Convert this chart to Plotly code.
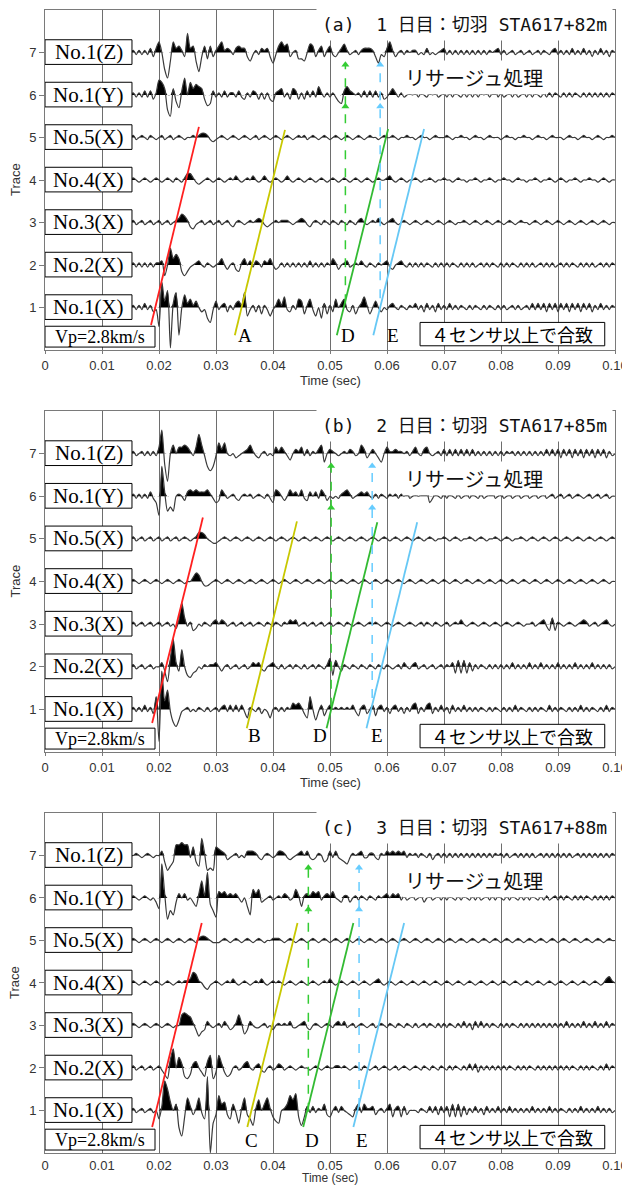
import numpy as np
import plotly.graph_objects as go

# ---------------- data ----------------
T_START_MS = 15.0      # first sample time (ms)
T_STEP_MS = 0.5        # sample interval (ms)
AMP_UNIT = 0.05        # amplitude unit in trace spacings

TIME_TICKS = [0, 0.01, 0.02, 0.03, 0.04, 0.05, 0.06, 0.07, 0.08, 0.09, 0.10]
TIME_TICK_TEXT = ["0", "0.01", "0.02", "0.03", "0.04", "0.05", "0.06", "0.07", "0.08", "0.09", "0.10"]
TRACE_TICKS = [1, 2, 3, 4, 5, 6, 7]
SENSOR_LABELS = ["No.1(X)", "No.2(X)", "No.3(X)", "No.4(X)", "No.5(X)", "No.1(Y)", "No.1(Z)"]

PANEL_TITLES = ["(a)  1 日目：切羽 STA617+82m", "(b)  2 日目：切羽 STA617+85m", "(c)  3 日目：切羽 STA617+88m"]

# ---- panel (a) waveforms (0.5 ms samples from 15 ms) ----
A1 = [0, 1, -1, 1, -1, 2, -1, 1, -2, -1,
      -9, 12, 3, 8, -19, 2, 7, -13, 0, 6,
      2, 4, 1, 3, 0, -2, -1, -5, -7, -1,
      3, -1, 1, 2, -2, 1, -1, 2, 3, 1,
      7, -4, -1, 1, -2, 1, -3, 1, -1, -4,
      -1, 1, 4, 1, 5, -1, -2, 1, -1, 4,
      3, -3, 1, 4, -1, -4, 0, -5, 2, -3,
      1, -2, 4, 0, 2, 4, -1, -2, 1, -3,
      0, 2, 5, 1, -3, 0, 3, 0, -2, 0,
      -1, 1, 2, 0, -1, 1, 0, -1, 1, 0,
      2, -1, 1, -2, 2, -1, 1, -2, 2, -1,
      1, -1, 2, -1, 1, -1, 1, 0, -1, 1,
      -1, 1, 0, -1, 1, -1, 1, 0, -1, 1,
      -1, 1, -1, 0, 1, -1, 1, -1, 0, 1,
      -1, 2, -1, 2, -1, 2, -2, 2, -1, 2,
      -2, 2, -1, 2, -2, 2, -1, 2, -2, 2,
      -1, 2, -2, 1, -1, 2, -1, 1, -1, 1,
      0]
A2 = [0, 1, -1, 1, -1, 1, -1, 1, -1, 1,
      1, 2, -5, 0, 8, 3, 5, 3, -3, -5,
      -3, -1, 0, 1, 2, 0, -1, 1, 0, -1,
      0, 1, 3, 0, -2, 0, 1, -2, -3, 1,
      3, 0, 2, -1, 2, 1, -1, 2, 1, 3,
      0, -2, -1, 1, -1, 1, -1, 1, -1, 1,
      -1, 1, -1, 2, -1, 1, -1, 1, -1, 1,
      0, 3, 1, -2, 0, 1, 2, -1, 0, 1,
      0, 2, 0, -1, 1, 0, -1, 1, 0, 1,
      2, -1, -2, 0, 1, 2, 0, -1, 1, -1,
      1, -1, 1, -1, 1, 0, -1, 1, -1, 1,
      -1, 1, -1, 1, 0, -1, 1, -1, 1, -1,
      1, -1, 0, 1, -1, 1, -1, 1, 0, -1,
      1, -1, 1, -1, 1, 0, -1, 1, -1, 1,
      -1, 1, -1, 0, 1, -1, 1, -1, 1, -1,
      0, 1, -1, 1, -1, 1, 0, -1, 1, -1,
      1, -1, 1, -1, 0, 1, -1, 1, -1, 1,
      0]
A3 = [0, 1, -1, 0, 1, -1, 0, 1, -1, 0,
      1, -1, 0, 1, -1, 0, 1, 2, 4, 3,
      1, -2, -3, -1, 0, 1, -1, 0, 1, -1,
      0, 1, -1, 0, 1, -1, -2, 0, 1, 0,
      -1, 0, 1, 0, 1, 2, 1, -1, -2, -1,
      0, 1, 0, 1, 1, 1, 0, -1, 0, 1,
      2, 1, -1, -2, 0, 1, 0, -1, 1, 0,
      -1, 1, 0, -1, 1, 0, -1, 1, 0, -1,
      1, 2, 0, -1, 0, 1, 0, 2, 0, -1,
      0, 1, 2, 0, -1, 0, 1, 0, -1, 0,
      1, 0, -1, 0, 1, 0, -1, 0, 1, 0,
      -1, 0, 1, 0, -1, 0, 0, 1, 0, -1,
      0, 1, 0, -1, 0, 1, 0, -1, 0, 1,
      0, -1, 0, 1, 0, -1, 0, 1, 0, 0,
      -1, 0, 1, 0, -1, 0, 1, 0, -1, 0,
      1, 0, -1, 0, 1, 0, -1, 0, 1, 0,
      -1, 0, 1, 0, -1, 0, 1, 0, -1, 0,
      0]
A4 = [0, 1, 0, -1, 0, 1, 0, -1, 0, 1,
      0, -1, 0, 1, 0, -1, 1, 0, -1, 1,
      3, 3, 1, -1, -2, -1, 0, 1, 0, -1,
      0, 1, 0, -1, 0, 1, 0, 2, 0, -1,
      0, 1, 0, 2, 0, -1, 0, 2, 0, -1,
      0, 1, 0, -1, 0, 2, 0, -1, 0, 1,
      0, -1, 0, 1, 0, -1, 0, 1, 0, -1,
      0, 1, 0, -1, 0, 1, 0, -1, 0, 1,
      0, -1, 0, 1, 0, -1, 0, 1, 0, 0,
      1, 2, 0, -1, 0, 1, 0, -1, 0, 0,
      1, 0, -1, 0, 0, 1, 0, -1, 0, 0,
      1, 0, 0, -1, 0, 1, 0, 0, -1, 0,
      0, 1, 0, -1, 0, 0, 1, 0, -1, 0,
      0, 1, 0, 0, -1, 0, 1, 0, 0, -1,
      0, 0, 1, 0, -1, 0, 0, 1, 0, -1,
      0, 1, 0, -1, 0, 0, 1, 0, -1, 0,
      0, 1, 0, 0, -1, 0, 1, 0, -1, 0,
      0]
A5 = [0, 1, -1, 0, 1, 0, -1, 1, 0, -1,
      0, 1, -1, 0, 1, -1, 0, 1, 0, -1,
      0, 0, 1, 0, 1, 2, 2, 1, -1, -2,
      -1, 0, 1, 0, -1, 0, 1, 0, -1, 0,
      1, 0, -1, 0, 1, -1, 0, 1, 0, -1,
      0, 1, 0, -1, 0, 1, 0, -1, 0, 1,
      0, 1, -1, 0, 1, 0, -1, 0, 1, 0,
      -1, 0, 1, 0, -1, 0, 1, 0, -1, 0,
      1, 0, -1, 0, 1, 0, 0, -1, 0, 1,
      0, 0, 1, 0, -1, 0, 0, 1, 0, 0,
      -1, 0, 1, 0, 0, -1, 0, 1, 0, 0,
      0, 1, 0, -1, 0, 0, 1, 0, 0, -1,
      0, 1, 0, 0, -1, 0, 1, 0, 0, 0,
      -1, 0, 1, 0, 0, -1, 0, 0, 1, 0,
      0, -1, 0, 1, 0, 0, -1, 0, 1, 0,
      0, 0, -1, 0, 1, 0, 0, -1, 0, 1,
      0, 0, -1, 0, 1, 0, -1, 0, 0, 1,
      0]
A6 = [0, 1, -1, 1, -1, 2, -1, 2, -2, 1,
      7, 6, 3, -7, -10, 3, -3, -6, 2, 8,
      0, 6, 3, 5, 4, 3, -2, -5, -4, 2,
      -1, 1, -1, 2, -1, 1, 1, -1, 2, -1,
      -2, 1, -1, 2, 1, -2, 1, -2, 1, -2,
      -3, 1, 2, 3, -1, 1, -2, 3, 2, -2,
      1, -2, 2, -1, 2, -1, 4, 1, -1, 1,
      -1, 1, -1, -3, -4, 2, 4, 2, 1, 0,
      1, -1, 2, -1, 2, -1, 2, -1, 1, -2,
      -1, 1, 3, 1, -1, 1, -1, 0, 1, 0,
      1, -1, 1, 0, -1, 1, 0, 1, -1, 0,
      1, -1, 1, -1, 1, 0, -1, 1, -1, 1,
      -1, 1, -1, 1, 0, 1, -1, 1, 2, -1,
      1, -1, 0, 1, -1, 1, -1, 0, 1, -1,
      1, -1, 1, 0, -1, 1, -1, 1, -1, 1,
      0, -1, 1, -1, 1, -1, 1, 0, -1, 1,
      -1, 1, -1, 1, -1, 1, -1, 1, -1, 1,
      0]
A7 = [0, 1, -1, 1, -1, 1, -1, 2, -2, 2,
      5, 0, -8, -12, -4, 5, 2, 3, 1, -2,
      9, 2, 3, -4, -9, -2, 3, -3, 3, -2,
      1, 3, 5, 1, 2, 1, -1, 2, 3, 2,
      2, -2, -4, -1, 1, -1, 2, 1, 2, -2,
      -5, -1, 3, 5, 3, 4, -2, 0, 1, -3,
      -3, -4, 0, 4, 3, -2, 1, 3, -2, 1,
      3, -1, -2, 0, 2, 4, 1, -1, 0, 1,
      -1, 1, 2, 2, 2, 1, -2, -5, -1, -2,
      2, 5, 1, -2, 0, 1, -1, 1, 0, 1,
      1, -1, 0, -1, 2, -1, 0, -1, 0, 1,
      2, -1, 1, -1, 1, -1, 1, -1, 1, -1,
      1, -1, 1, -1, 1, -1, 1, 0, 1, 2,
      -1, 1, -1, 0, 1, -1, 0, 1, -1, 0,
      1, -1, 0, 1, -1, 1, 0, -1, 1, 2,
      -1, 1, -1, 1, -1, 2, -1, 1, -1, 2,
      -1, 1, -2, 1, -1, 2, -1, 1, -2, 1,
      0]

# ---- panel (b) waveforms ----
B1 = [0, 1, -1, 1, -1, 2, -1, 1, -2, 6,
      -15, 18, 4, 9, -1, -6, -8, -5, -1, 0,
      1, -1, 0, -1, 1, 0, -1, 1, -1, 0,
      1, -1, 1, 2, -1, 2, -1, 2, -1, 2,
      -1, -4, 1, 0, -1, 1, -2, 0, -1, -4,
      0, 1, -1, 1, -1, 1, 0, 3, 2, 3,
      1, -2, -4, 6, 0, -5, -1, 2, -3, 0,
      2, 0, 1, 0, 1, 0, 1, 0, 2, -1,
      -3, 1, 2, -2, 0, 2, -3, 1, 2, -1,
      1, -2, 1, 2, -1, 1, -2, 1, -1, 2,
      3, -2, 1, -1, 2, 3, -2, 1, -1, 2,
      -1, 1, -2, 2, -1, 1, -1, 2, -1, 1,
      -1, 1, -1, 1, 0, -1, 1, -1, 1, 0,
      -1, 1, -1, 1, -1, 2, -1, 1, 0, -1,
      1, -1, 1, -1, 1, 0, -1, 2, -1, 1,
      -1, 1, 0, -1, 1, -1, 1, -1, 2, -1,
      1, -1, 1, 0, -1, 1, -1, 2, -1, 1,
      0]
B2 = [0, 1, -1, 0, 1, -1, 0, 1, -1, 0,
      0, 2, -2, -7, 4, 13, 2, -2, 8, 0,
      -4, -5, -3, -2, 0, -1, 1, 0, 1, 1,
      2, 0, -2, 0, 1, -1, 0, 1, -1, 0,
      1, -1, 0, 2, 1, 2, -1, -2, 0, 1,
      2, 0, -1, 1, -1, 0, 1, -1, 1, 0,
      -1, 1, -1, 0, 1, -1, 1, 0, -1, 1,
      4, -4, 3, 0, -2, 1, 0, -1, 1, 0,
      -1, 1, 0, -1, 1, 0, -1, 1, 0, -1,
      1, 0, -1, 0, 1, -1, 2, 0, -1, 1,
      2, -1, 0, 1, -1, 0, 1, -1, 0, 1,
      -1, 1, 0, 2, -3, 3, -3, 3, -3, 2,
      -2, 1, -1, 1, 0, -1, 1, -1, 1, -1,
      1, -1, 1, -1, 2, -1, 1, -1, 1, -1,
      2, -1, 1, -1, 2, -1, 1, -1, 1, -1,
      2, -1, 1, -1, 1, -1, 2, -1, 1, -1,
      1, -1, 2, -1, 1, -1, 1, -1, 1, -1,
      0]
B3 = [0, 1, -1, 0, 1, -1, 0, 1, -1, 0,
      1, -1, 0, 1, -1, 0, -2, 2, 10, 3,
      -1, 1, -3, -2, 0, -1, 1, 0, -1, 1,
      2, 0, 2, 1, -1, 0, 1, -1, 0, 1,
      -1, 0, 1, -1, 0, 1, 0, -1, 1, 0,
      -1, 1, 0, -1, 1, 0, 2, 1, 2, -1,
      0, 1, -1, 0, 1, -1, 0, 1, -1, 0,
      1, -1, 0, 1, 0, -1, 1, 0, -1, 0,
      1, 0, -1, 0, 1, 0, 1, 0, -1, 0,
      1, 0, -1, 0, 1, 0, -1, 0, 1, 0,
      -1, 0, 1, -1, 1, 0, -1, 1, 0, -1,
      0, 1, -1, 0, 1, 0, 2, 0, -1, 0,
      1, 0, -1, 0, 1, 0, -1, 0, 1, 0,
      -1, 0, 1, 0, -1, 0, 1, 0, -1, 0,
      0, 1, -1, 0, 1, 2, -1, -3, 3, -3,
      1, 0, -1, 0, 1, 0, -1, 0, 1, 2,
      1, -1, 0, 1, -1, 0, 1, 2, 0, -1,
      0]
B4 = [0, 1, 0, -1, 0, 1, 0, -1, 0, 1,
      0, -1, 0, 1, 0, -1, 0, 1, 0, -1,
      0, 0, 2, 4, 3, 0, -2, -2, -1, 0,
      1, 0, -1, 0, 1, 0, -1, 0, 1, 0,
      -1, 0, 1, 0, -1, 0, 1, 0, -1, 0,
      1, 0, -1, 0, 1, 0, -1, 0, 1, 0,
      -1, 0, 1, 0, -1, 0, 1, 0, -1, 0,
      1, 0, -1, 0, 1, 0, -1, 0, 1, 0,
      -1, 0, 1, 0, -1, 0, 1, 0, -1, 0,
      1, 0, -1, 0, 1, 0, -1, 0, 1, 0,
      -1, 0, 1, 0, -1, 0, 1, 0, -1, 0,
      1, 0, -1, 0, 1, 0, -1, 0, 1, 0,
      -1, 0, 1, 0, -1, 0, 1, 0, -1, 0,
      1, 0, -1, 0, 1, 0, -1, 0, 1, 0,
      -1, 0, 1, 0, -1, 0, 1, 0, -1, 0,
      1, 0, -1, 0, 1, 0, -1, 0, 1, 0,
      -1, 0, 1, 0, -1, 0, 1, 0, -1, 0,
      0]
B5 = [0, 1, -1, 0, 1, -1, 0, 1, -1, 0,
      1, -1, 0, 1, -1, 0, 1, -1, 0, 1,
      0, -1, 0, 1, 3, 3, 2, 0, -1, -2,
      -2, -1, 0, 1, 0, -1, 0, 1, 0, -1,
      0, 1, 0, -1, 0, 1, 0, -1, 0, 1,
      0, -1, 0, 1, 0, -1, 0, 1, 0, -1,
      0, 1, 0, -1, 0, 1, 0, -1, 0, 1,
      0, -1, 0, 1, 0, -1, 0, 1, 0, -1,
      0, 1, 0, -1, 0, 1, 0, -1, 0, 1,
      0, -1, 0, 1, 0, -1, 0, 1, 0, -1,
      0, 1, 0, -1, 0, 1, 0, -1, 0, 0,
      1, 0, -1, 0, 1, 0, -1, 0, 0, 1,
      0, -1, 0, 1, 0, -1, 0, 0, 1, 0,
      -1, 0, 1, 0, -1, 0, 0, 1, 0, -1,
      0, 1, 0, -1, 0, 1, 0, -1, 0, 1,
      0, -1, 0, 1, 0, -1, 0, 1, 0, -1,
      0, 1, 0, -1, 0, 1, 0, -1, 0, 1,
      0]
B6 = [0, 1, -1, 1, -1, 1, -1, 2, -1, -3,
      -9, 14, 2, -7, -5, -7, 0, 1, 0, -2,
      2, 3, 2, 3, 2, 2, 2, 3, 1, -1,
      -3, -2, 3, 1, -1, 0, 1, -1, -2, 0,
      1, 0, 1, -1, 0, 1, 0, -1, 1, -1,
      -3, 3, 2, 0, -2, 0, 3, 1, 2, 0,
      3, -1, -2, 2, 0, 2, -1, 3, 1, -2,
      0, -1, 0, -1, 1, 2, 3, 1, -1, 0,
      1, 2, 1, 2, 0, -1, 1, -1, 1, 0,
      -1, 1, 0, 1, -1, 1, 0, 2, -1, 0,
      1, 0, 1, 3, 2, -3, -1, 1, 0, -1,
      1, -1, 1, 0, -1, 1, -1, 0, 1, -1,
      1, 0, -1, 1, -1, 0, 1, 2, -1, 0,
      1, -1, 0, 1, -1, 0, 1, -1, 0, 1,
      -1, 0, 1, -1, 0, 1, -1, 0, 1, -1,
      0, 1, -1, 0, 1, -1, 0, 1, 0, -1,
      0, 1, -1, 0, 1, -1, 0, 1, -1, 0,
      0]
B7 = [0, 1, -1, 0, 1, -1, 1, -1, 1, -1,
      3, 11, -5, -13, 0, 4, 0, 3, 3, 4,
      3, 1, -1, 3, 9, 4, -1, -6, -8, -6,
      -1, 5, 2, 5, 0, -1, 0, -2, -1, 0,
      1, 2, 4, 1, -1, -2, 0, 1, -1, 0,
      -1, 3, 1, 3, 1, -1, -3, 0, 2, 1,
      3, -1, 2, -1, 1, 0, 2, 4, -4, 0,
      2, 1, 0, -1, 0, 1, 0, 2, 1, -1,
      0, 4, 2, -2, 0, 2, 0, -2, -4, 0,
      3, 1, 1, 2, 1, 1, 0, 1, -1, 1,
      3, 0, -1, 2, 3, 0, -1, 0, 1, -1,
      2, -1, 2, -1, 2, -1, 2, -1, 2, -1,
      2, -1, 1, -1, 1, -1, 1, -1, 1, -1,
      1, -1, 1, 0, 1, -1, 1, -1, 1, -1,
      1, -1, 1, -1, 1, -1, 2, -1, 2, -1,
      2, -2, 2, -1, 2, -2, 2, -1, 2, -2,
      2, -1, 2, -2, 2, -1, 2, -2, 1, -1,
      0]

# ---- panel (c) waveforms ----
C1 = [0, 1, -1, 0, 1, -1, 0, 1, -1, 0,
      -4, 2, 14, 10, 4, 0, 3, -8, -12, -3,
      6, 2, -2, 1, 6, -1, -4, 16, -20, -6,
      -2, 7, 3, 4, -2, -4, 3, -1, -6, 1,
      6, -2, -4, -7, 1, 5, 0, 3, 6, 1,
      -3, -5, -6, 0, 1, 3, 7, 5, 8, -3,
      -7, -3, 2, -1, 2, -1, 1, 0, 3, -2,
      -3, 0, 2, -1, 2, 0, -1, -2, -3, 1,
      3, -1, 3, 1, 1, 2, -2, 0, 1, -1,
      1, 3, -3, 1, 2, -3, 2, -2, 0, 0,
      0, -1, 1, 0, -1, 2, -1, 2, -2, 2,
      -1, 2, -3, 3, -3, 3, -3, 2, -2, 1,
      -1, 2, -1, 1, -2, 2, -1, 1, -1, 2,
      -1, 1, -1, 2, -1, 1, -1, 1, -1, 1,
      -1, 2, -1, 1, -1, 1, -1, 2, -1, 1,
      -1, 1, 0, -1, 1, -1, 1, -1, 2, -1,
      1, -1, 1, -1, 2, -1, 1, -1, 1, -1,
      0]
C2 = [0, 1, -1, 0, 1, -1, 0, 1, -1, 0,
      1, -1, -3, -5, 4, 9, 0, 5, 2, -4,
      -5, -3, 2, 3, 0, -2, -4, 3, 6, -5,
      -2, 6, 2, -2, -4, -3, 0, 1, -1, 0,
      2, 3, 0, -1, 1, 2, -1, -2, 0, 1,
      -1, 0, 2, 1, -1, 0, 1, 0, -1, 0,
      1, 0, 0, -1, 0, 1, 0, -1, 0, 1,
      0, 0, 1, 1, 0, 1, 0, -1, 0, 1,
      0, -1, 1, 0, -1, 0, 1, -1, 0, 1,
      0, -1, 0, 1, -1, 0, 1, 0, -1, 0,
      1, 0, -1, 1, 0, -1, 1, 0, -1, 1,
      0, -1, 1, -1, 1, 0, -1, 1, -1, 2,
      -1, 2, -2, 1, -1, 1, -1, 1, -1, 1,
      -1, 1, -1, 1, 0, -1, 1, -1, 1, -1,
      1, 0, -1, 1, -1, 1, -1, 1, -1, 1,
      -1, 1, -1, 1, -1, 1, 0, -1, 1, -1,
      1, -1, 1, 0, -1, 1, -1, 2, -1, 1,
      0]
C3 = [0, 1, 0, -1, 0, 1, 0, -1, 0, 1,
      0, -1, 0, 1, 0, -1, 0, 0, 5, 6,
      5, 4, 1, -2, -5, -3, -2, 2, 0, -1,
      0, 1, -1, 2, 0, -2, -1, 1, 5, 1,
      -4, -2, 2, 0, -1, -1, 0, 1, -1, 0,
      -2, 0, 1, 0, 1, 0, 2, -1, -1, 0,
      1, 2, -1, -2, 0, 1, 0, -1, 0, 1,
      0, -1, 1, 2, 0, 2, -1, 0, 1, -1,
      0, 1, 0, -1, 0, 1, -1, 0, 1, 0,
      -1, 1, 0, -1, 1, 0, -1, 1, 0, -1,
      1, -1, 0, 1, -1, 1, 0, -1, 1, -1,
      1, -1, 1, 0, -1, 1, -1, 2, -1, 1,
      -2, 2, -1, 2, -1, 1, -1, 1, 0, -1,
      1, -1, 1, -1, 1, 0, -1, 1, -1, 1,
      -1, 1, -1, 1, -1, 1, -1, 1, -1, 1,
      -1, 1, -1, 2, -1, 1, -1, 1, -1, 2,
      -1, 1, -1, 2, -1, 1, -1, 2, -1, 1,
      0]
C4 = [0, 1, 0, -1, 0, 1, 0, -1, 0, 1,
      0, -1, 0, 1, 0, -1, 0, 1, 0, 1,
      1, 2, 5, 4, 1, 0, -2, -3, -1, 0,
      1, 0, -1, 0, 1, 0, 2, 0, -1, 0,
      1, 0, -1, 0, 1, 0, 2, 0, -1, 0,
      1, 0, 1, 0, -1, 0, 1, 0, -1, 0,
      1, 0, -1, 0, 1, 0, -1, 0, 1, 0,
      2, 0, -1, 0, 1, 0, -1, 0, 1, 0,
      -1, 0, 1, 0, -1, 0, 1, 2, 0, -1,
      0, 1, 0, -1, 0, 1, 0, -1, 0, 1,
      0, -1, 0, 1, 0, -1, 0, 1, 0, -1,
      0, 1, 0, -1, 0, 1, 0, -1, 0, 1,
      0, -1, 0, 1, 0, -1, 0, 1, 0, -1,
      0, 1, 0, -1, 0, 1, 0, -1, 0, 1,
      0, -1, 0, 1, 0, -1, 0, 1, 0, -1,
      0, 1, 0, -1, 0, 1, 0, -1, 0, 1,
      0, -1, 0, 1, 0, -1, 0, 2, 3, 1,
      0]
C5 = [0, 1, 0, -1, 0, 1, 0, -1, 0, 1,
      0, -1, 0, 1, 0, -1, 0, 1, 0, -1,
      0, 1, 0, -1, 1, 2, 2, 1, 0, -1,
      -1, -1, 0, 1, 0, -1, 0, 1, 0, -1,
      0, 1, 0, -1, 0, 1, 0, -1, 0, 0,
      1, 1, 1, 0, -1, 0, 1, 0, -1, 0,
      1, 0, -1, 0, 1, 0, -1, 0, 1, 0,
      -1, 0, 1, 0, -1, 0, 1, 0, -1, 0,
      1, 0, -1, 0, 1, 0, -1, 0, 1, 0,
      -1, 0, 1, 0, -1, 0, 1, 0, -1, 0,
      1, 0, -1, 0, 1, 0, -1, 0, 1, 0,
      -1, 0, 1, 0, -1, 0, 1, 0, -1, 0,
      1, 0, -1, 0, 1, 0, -1, 0, 1, 0,
      -1, 0, 1, 0, -1, 0, 1, 0, -1, 0,
      1, 0, -1, 0, 1, 0, -1, 0, 1, 0,
      -1, 0, 1, 0, -1, 0, 1, 0, -1, 0,
      1, 0, -1, 0, 1, 0, -1, 0, 1, 0,
      0]
C6 = [0, 1, 0, -1, 0, 1, 0, -1, 0, -2,
      -5, 16, 2, -10, -6, -8, -2, 2, 0, 2,
      -1, 0, -2, -4, 2, 8, 1, 12, -3, -6,
      -9, 3, 2, 3, 1, 2, 1, 2, 0, -2,
      0, -4, -8, 4, 2, 4, -2, -1, 0, 1,
      -1, 0, 1, 0, 2, 1, -1, 0, 4, 1,
      -4, 1, 2, 1, 3, 2, 3, -1, 1, 2,
      1, 3, 0, -1, -2, 1, 1, -2, 0, 1,
      -1, 1, 0, -1, 1, 0, -1, 1, 0, 1,
      2, 0, 2, 1, 2, -1, 1, -1, 0, 1,
      -1, 0, 1, -2, 0, 1, -1, 0, 1, -1,
      1, -1, 1, 0, -1, 1, -1, 1, 0, -1,
      1, -1, 1, -1, 0, 1, -1, 1, -1, 1,
      0, -1, 1, -1, 1, 0, -1, 1, -1, 1,
      -1, 1, 0, -1, 1, -1, 1, -1, 0, 1,
      -1, 1, -1, 1, 0, -1, 1, -1, 1, -1,
      1, 0, -1, 1, -1, 1, -1, 1, -1, 1,
      0]
C7 = [0, 0, 1, 0, -1, 0, 1, 0, -1, 0,
      0, 2, -3, -7, -5, -3, 5, 5, 6, 5,
      5, -1, 4, -3, -5, 8, 1, -7, -6, -7,
      4, 3, 2, 1, -2, -1, 0, 1, -1, 0,
      -1, 2, 2, 2, 1, -1, -2, 0, 1, 0,
      -1, 0, 2, 2, 1, -1, -2, -1, 0, 1,
      2, 0, 2, -1, -2, -1, 1, 0, -3, -2,
      2, -1, 2, -1, -2, -3, -4, -1, 1, 0,
      1, 2, -1, -1, 1, 1, -1, -2, 1, 0,
      2, 1, 2, 1, 2, 1, 2, -1, 1, 0,
      1, -1, 1, 0, -1, 1, -2, 0, 1, -1,
      1, -1, 1, -1, 1, -1, 1, -1, 1, -1,
      1, -1, 1, -1, 1, -1, 1, -1, 1, 0,
      1, -1, 1, -1, 0, 1, -1, 1, -1, 1,
      -1, 1, -1, 0, 1, -1, 1, -1, 1, -1,
      1, -1, 1, -1, 1, -1, 0, 1, -1, 1,
      -1, 1, -1, 1, -1, 1, -1, 1, -1, 1,
      0]

# ---- picks: Vp = 2.8 km/s move-out lines (start/end time, start/end trace) ----
MOVE_COLORS = ["#ff2020", "#c8c800", "#33bb33", "#66c8f5"]
MOVE_A_T0 = [0.0186, 0.0333, 0.0512, 0.0576]
MOVE_A_T1 = [0.0270, 0.0421, 0.0602, 0.0665]
MOVE_A_Y0 = [0.59, 0.35, 0.35, 0.35]
MOVE_A_Y1 = [5.25, 5.18, 5.20, 5.20]
MOVE_B_T0 = [0.0188, 0.0354, 0.0494, 0.0564]
MOVE_B_T1 = [0.0277, 0.0442, 0.0583, 0.0653]
MOVE_B_Y0 = [0.68, 0.56, 0.56, 0.56]
MOVE_B_Y1 = [5.50, 5.41, 5.39, 5.39]
MOVE_C_T0 = [0.0188, 0.0355, 0.0453, 0.0541]
MOVE_C_T1 = [0.0275, 0.0443, 0.0541, 0.0630]
MOVE_C_Y0 = [0.61, 0.61, 0.61, 0.61]
MOVE_C_Y1 = [5.41, 5.41, 5.41, 5.41]

# ---- Lissajous-processing arrows (D green, E blue) ----
ARROW_COLORS = ["#33cc33", "#66ccff"]
ARROW_A_T = [0.0527, 0.0588]
ARROW_A_Y0 = [1.10, 1.22]
ARROW_B_T = [0.0502, 0.0574]
ARROW_B_Y0 = [1.06, 1.27]
ARROW_C_T = [0.0462, 0.0551]
ARROW_C_Y0 = [0.97, 1.08]
ARROW_TIPS = [5.81, 6.79]

# ---- phase letters ----
LETTERS_A = ["A", "D", "E"]
LETTERS_A_T = [0.0351, 0.0532, 0.0611]
LETTERS_B = ["B", "D", "E"]
LETTERS_B_T = [0.0368, 0.0482, 0.0583]
LETTERS_C = ["C", "D", "E"]
LETTERS_C_T = [0.0363, 0.0468, 0.0556]
LETTER_Y = [0.34, 0.38, 0.30]

# ---------------- figure ----------------
PANELS = [
    dict(waves=[A1, A2, A3, A4, A5, A6, A7], t0=MOVE_A_T0, t1=MOVE_A_T1, y0=MOVE_A_Y0, y1=MOVE_A_Y1,
         at=ARROW_A_T, ay0=ARROW_A_Y0, let=LETTERS_A, lt=LETTERS_A_T, domain=[0.7025, 1.0]),
    dict(waves=[B1, B2, B3, B4, B5, B6, B7], t0=MOVE_B_T0, t1=MOVE_B_T1, y0=MOVE_B_Y0, y1=MOVE_B_Y1,
         at=ARROW_B_T, ay0=ARROW_B_Y0, let=LETTERS_B, lt=LETTERS_B_T, domain=[0.3508, 0.6492]),
    dict(waves=[C1, C2, C3, C4, C5, C6, C7], t0=MOVE_C_T0, t1=MOVE_C_T1, y0=MOVE_C_Y0, y1=MOVE_C_Y1,
         at=ARROW_C_T, ay0=ARROW_C_Y0, let=LETTERS_C, lt=LETTERS_C_T, domain=[0.0, 0.2975]),
]

fig = go.Figure()
shapes = []
annotations = []
SERIF = "Liberation Serif, DejaVu Serif, serif"
SANS = "Liberation Sans, Arial, sans-serif"
CJK = "Noto Sans CJK JP, sans-serif"
MONO_CJK = "DejaVu Sans Mono, Noto Sans CJK JP, monospace"

layout_axes = {}
for p_i, pan in enumerate(PANELS):
    n = p_i + 1
    xa = "x" if n == 1 else f"x{n}"
    ya = "y" if n == 1 else f"y{n}"
    # waveforms
    for k, vals in enumerate(pan["waves"]):
        base = TRACE_TICKS[k]
        t = (T_START_MS + T_STEP_MS * np.arange(len(vals))) / 1000.0
        v = np.asarray(vals, dtype=float) * AMP_UNIT
        fig.add_trace(go.Scatter(x=t, y=np.full(len(t), base), mode="lines",
                                 line=dict(width=0, color="rgba(0,0,0,0)"),
                                 hoverinfo="skip", showlegend=False, xaxis=xa, yaxis=ya))
        fig.add_trace(go.Scatter(x=t, y=base + np.clip(v, 0, None), mode="lines",
                                 line=dict(width=0, color="black", shape="spline", smoothing=0.7),
                                 fill="tonexty", fillcolor="black",
                                 hoverinfo="skip", showlegend=False, xaxis=xa, yaxis=ya))
        fig.add_trace(go.Scatter(x=t, y=base + v, mode="lines",
                                 line=dict(width=1.2, color="#3a3a3a", shape="spline", smoothing=0.7),
                                 hoverinfo="skip", showlegend=False, xaxis=xa, yaxis=ya))
    # move-out lines
    for j in range(4):
        fig.add_trace(go.Scatter(x=[pan["t0"][j], pan["t1"][j]], y=[pan["y0"][j], pan["y1"][j]],
                                 mode="lines", line=dict(color=MOVE_COLORS[j], width=1.8),
                                 hoverinfo="skip", showlegend=False, xaxis=xa, yaxis=ya))
    # dashed arrows
    for j in range(2):
        fig.add_trace(go.Scatter(x=[pan["at"][j], pan["at"][j]], y=[pan["ay0"][j], ARROW_TIPS[1] - 0.08],
                                 mode="lines", line=dict(color=ARROW_COLORS[j], width=1.5, dash="dash"),
                                 hoverinfo="skip", showlegend=False, xaxis=xa, yaxis=ya))
        fig.add_trace(go.Scatter(x=[pan["at"][j]] * len(ARROW_TIPS), y=[tp - 0.08 for tp in ARROW_TIPS],
                                 mode="markers", marker=dict(symbol="triangle-up", size=7,
                                                             color=ARROW_COLORS[j], line=dict(width=0)),
                                 hoverinfo="skip", showlegend=False, xaxis=xa, yaxis=ya))
    # sensor label boxes
    for k, lab in enumerate(SENSOR_LABELS):
        base = TRACE_TICKS[k]
        shapes.append(dict(type="rect", xref=xa, yref=ya, x0=0, x1=0.01526, y0=base - 0.28, y1=base + 0.30,
                           line=dict(color="black", width=1), fillcolor="white", layer="above"))
        annotations.append(dict(x=0.0077, y=base + 0.01, xref=xa, yref=ya, text=lab, showarrow=False,
                                font=dict(family=SERIF, size=21, color="black")))
    # Vp box
    shapes.append(dict(type="rect", xref=xa, yref=ya, x0=0, x1=0.0193, y0=0.07, y1=0.56,
                       line=dict(color="black", width=1), fillcolor="white", layer="above"))
    annotations.append(dict(x=0.00965, y=0.31, xref=xa, yref=ya, text="Vp=2.8km/s", showarrow=False,
                            font=dict(family=SERIF, size=18, color="black")))
    # 4-sensor box
    shapes.append(dict(type="rect", xref=xa, yref=ya, x0=0.0658, x1=0.0982, y0=0.10, y1=0.65,
                       line=dict(color="black", width=1), fillcolor="white", layer="above"))
    annotations.append(dict(x=0.0820, y=0.37, xref=xa, yref=ya, text="４センサ以上で合致", showarrow=False,
                            font=dict(family=CJK, size=18, color="black")))
    # phase letters
    for j, L in enumerate(pan["let"]):
        annotations.append(dict(x=pan["lt"][j], y=LETTER_Y[p_i], xref=xa, yref=ya, text=L, showarrow=False,
                                font=dict(family=SERIF, size=19, color="black")))
    # title and lissajous label
    annotations.append(dict(x=0.0997, y=7.66, xref=xa, yref=ya, text=PANEL_TITLES[p_i], showarrow=False,
                            xanchor="right", bgcolor="white", borderpad=5,
                            font=dict(family=MONO_CJK, size=18, color="#111")))
    annotations.append(dict(x=0.0753, y=6.42, xref=xa, yref=ya, text="リサージュ処理", showarrow=False,
                            bgcolor="white", borderpad=2,
                            font=dict(family=CJK, size=20, color="#111")))
    # axis titles
    if n < 3:
        annotations.append(dict(x=0.5, y=pan["domain"][0], xref="paper", yref="paper", text="Time (sec)",
                                showarrow=False, yanchor="top", yshift=-21,
                                font=dict(family=SANS, size=13, color="#333")))
    else:
        annotations.append(dict(x=0.5, y=pan["domain"][0], xref="paper", yref="paper", text="Time (sec)",
                                showarrow=False, yanchor="bottom", yshift=-33, borderpad=0,
                                font=dict(family=SANS, size=12, color="#333")))
    annotations.append(dict(x=-0.0526, y=(pan["domain"][0] + pan["domain"][1]) / 2, xref="paper", yref="paper",
                            text="Trace", showarrow=False, textangle=-90, xanchor="center", yanchor="middle",
                            font=dict(family=SANS, size=13, color="#333")))

    xkey = "xaxis" if n == 1 else f"xaxis{n}"
    ykey = "yaxis" if n == 1 else f"yaxis{n}"
    layout_axes[xkey] = dict(domain=[0, 1], anchor=ya, range=[0, 0.1], tickvals=TIME_TICKS,
                             ticktext=TIME_TICK_TEXT, showgrid=True, gridcolor="#6e6e6e", gridwidth=1,
                             showline=True, linecolor="#7a7a7a", linewidth=1, mirror=True,
                             ticks="outside" if n < 3 else "", ticklen=3 if n < 3 else 0,
                             tickcolor="#7a7a7a", zeroline=False,
                             tickfont=dict(family=SANS, size=13, color="#333"), automargin=False)
    layout_axes[ykey] = dict(domain=pan["domain"], anchor=xa, range=[0, 8], tickvals=TRACE_TICKS,
                             showgrid=False, showline=True, linecolor="#7a7a7a", linewidth=1, mirror=True,
                             ticks="outside", ticklen=5, tickcolor="#7a7a7a", zeroline=False,
                             tickfont=dict(family=SANS, size=13, color="#333"), automargin=False)

# the page body adds an 8 px offset, so the figure is sized to fill the 630x1186 window
fig.update_layout(width=622, height=1178, margin=dict(l=37, r=15, t=2, b=33),
                  plot_bgcolor="white", paper_bgcolor="white", showlegend=False,
                  shapes=shapes, annotations=annotations, **layout_axes)

fig.write_html("out.html")
